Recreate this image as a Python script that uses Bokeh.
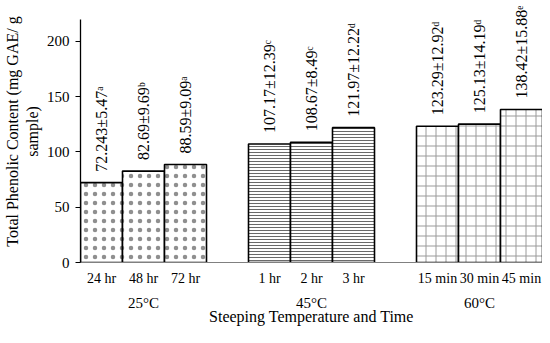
import math
from bokeh.plotting import figure
from bokeh.models import (FactorRange, CategoricalAxis, SingleIntervalTicker,
                          ColumnDataSource, Range1d)
from bokeh.embed import file_html
from bokeh.resources import INLINE
from bokeh.core.properties import value

# ---- data ----
groups = ["25°C", "45°C", "60°C"]
times_25 = ["24 hr", "48 hr", "72 hr"]
times_45 = ["1 hr", "2 hr", "3 hr"]
times_60 = ["15 min", "30 min", "45 min"]
tpc_25 = [72.243, 82.69, 88.59]
tpc_45 = [107.17, 108.67, 121.97]
tpc_60 = [123.29, 125.13, 138.42]
sd_25 = ["5.47", "9.69", "9.09"]
sd_45 = ["12.39", "8.49", "12.22"]
sd_60 = ["12.92", "14.19", "15.88"]
mean_txt_25 = ["72.243", "82.69", "88.59"]
mean_txt_45 = ["107.17", "108.67", "121.97"]
mean_txt_60 = ["123.29", "125.13", "138.42"]
sig_25 = ["ᵃ", "ᵇ", "ᵃ"]
sig_45 = ["ᶜ", "ᶜ", "ᵈ"]
sig_60 = ["ᵈ", "ᵈ", "ᵉ"]

FONT = "Liberation Serif"

all_times = [times_25, times_45, times_60]
factors = [(g, t) for g, ts in zip(groups, all_times) for t in ts]

p = figure(x_range=FactorRange(*factors, group_padding=1.0, factor_padding=0.0,
                               range_padding=0.0),
           y_range=Range1d(0, 237),
           width=542, height=327, output_backend="svg", toolbar_location=None,
           x_axis_location=None, min_border_left=79, min_border_right=0,
           min_border_top=0, min_border_bottom=64)
p.outline_line_color = None
p.xgrid.visible = False
p.ygrid.visible = False
p.background_fill_color = "white"
p.border_fill_color = "white"

hatches = [
    dict(hatch_pattern="dot", hatch_scale=9, hatch_color="#8f8f8f"),
    dict(hatch_pattern="horizontal_line", hatch_scale=3, hatch_color="#6a6a6a", hatch_weight=1),
    dict(hatch_pattern="cross", hatch_scale=10, hatch_color="#9a9a9a", hatch_weight=1),
]

series = [
    (groups[0], times_25, tpc_25, mean_txt_25, sd_25, sig_25),
    (groups[1], times_45, tpc_45, mean_txt_45, sd_45, sig_45),
    (groups[2], times_60, tpc_60, mean_txt_60, sd_60, sig_60),
]

for (g, ts, vals, mt, sds, sig), h in zip(series, hatches):
    src = ColumnDataSource(dict(
        x=[(g, t) for t in ts],
        top=vals,
        label=[f"{m}±{s}{l}" for m, s, l in zip(mt, sds, sig)],
    ))
    p.vbar(x="x", top="top", width=1.0, source=src, fill_color="white",
           line_color="black", line_width=1.6, **h)
    p.text(x="x", y="top", text="label", source=src, angle=math.pi / 2,
           text_align="left", text_baseline="middle", y_offset=-11,
           text_font=value(FONT), text_font_size="16px", text_color="black")

# y axis
ya = p.yaxis[0]
ya.ticker = SingleIntervalTicker(interval=50)
ya.bounds = (0, 220)
ya.axis_label = "Total Phenolic Content (mg GAE/ g\nsample)"
ya.axis_label_text_font = FONT
ya.axis_label_text_font_style = "normal"
ya.axis_label_text_font_size = "16px"
ya.axis_label_text_color = "black"
ya.axis_label_standoff = 3
ya.major_label_text_font = FONT
ya.major_label_text_font_size = "15px"
ya.major_label_text_color = "black"
ya.major_label_standoff = 6
ya.minor_tick_line_color = None
ya.major_tick_in = 0
ya.major_tick_out = 5
ya.major_tick_line_color = "black"
ya.axis_line_color = "black"
ya.axis_line_width = 1.3

# x axis: time labels
ax1 = CategoricalAxis()
ax1.axis_line_color = "#808080"
ax1.major_tick_line_color = None
ax1.major_tick_out = 0
ax1.major_tick_in = 0
ax1.minor_tick_line_color = None
ax1.separator_line_color = None
ax1.group_text_color = None
ax1.major_label_text_font = FONT
ax1.major_label_text_font_size = "14px"
ax1.major_label_text_color = "black"
ax1.major_label_standoff = 8
ax1.major_label_orientation = "horizontal"
p.add_layout(ax1, "below")

# x axis: temperature labels + title
ax2 = CategoricalAxis()
ax2.axis_line_color = None
ax2.major_tick_line_color = None
ax2.major_tick_out = 0
ax2.major_tick_in = 0
ax2.minor_tick_line_color = None
ax2.separator_line_color = None
ax2.major_label_text_color = None
ax2.group_text_font = FONT
ax2.group_text_font_size = "15px"
ax2.group_text_font_style = "normal"
ax2.group_text_color = "black"
ax2.major_label_standoff = 6
ax2.axis_label = "Steeping Temperature and Time"
ax2.axis_label_text_font = FONT
ax2.axis_label_text_font_style = "normal"
ax2.axis_label_text_font_size = "16px"
ax2.axis_label_text_color = "black"
ax2.axis_label_standoff = -6
p.add_layout(ax2, "below")

open("out.html", "w").write(file_html(p, INLINE))
